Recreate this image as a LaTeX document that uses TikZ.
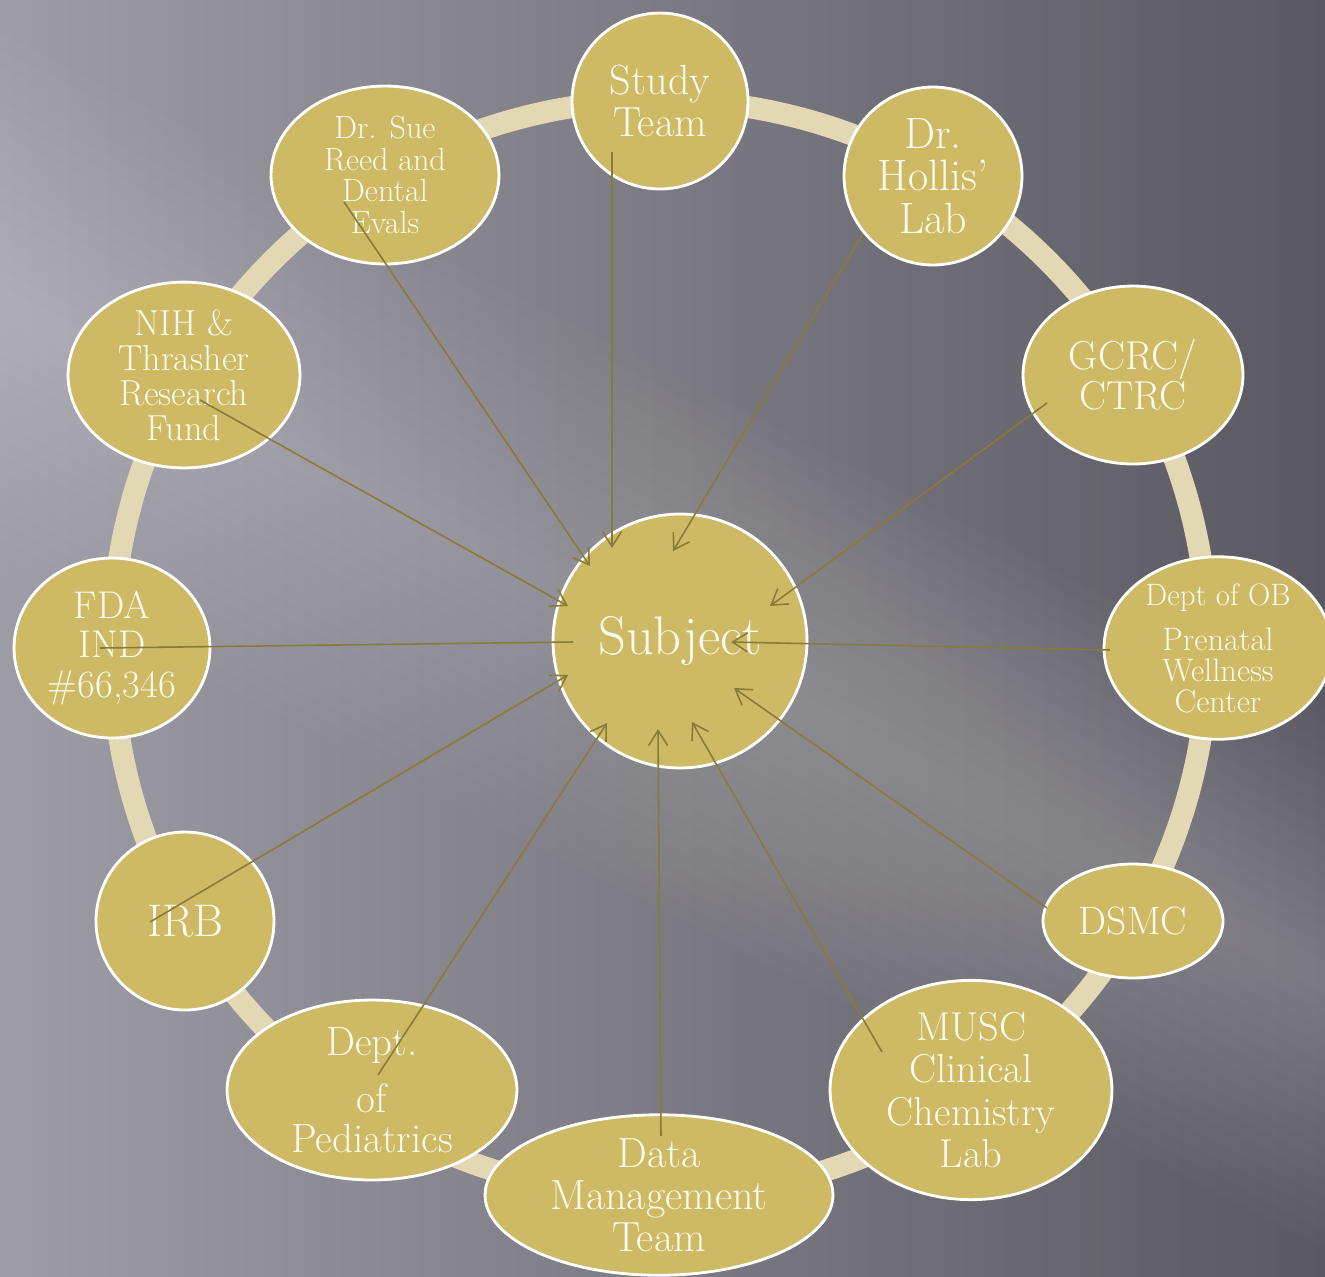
\documentclass[tikz,border=0pt]{standalone}
\usepackage{tikz}
\usetikzlibrary{shapes.geometric, arrows.meta}
\definecolor{bgdark}{RGB}{90,88,96}
\definecolor{bglight}{RGB}{158,156,164}
\definecolor{ringtan}{RGB}{226,216,180}
\definecolor{blobgold}{RGB}{206,186,100}
\definecolor{linkolive}{RGB}{138,122,58}
\definecolor{blobtext}{RGB}{252,250,238}
\newcommand{\txtsize}[2]{\fontsize{#1}{#2}\selectfont}

\begin{document}
\begin{tikzpicture}[x=0.02cm, y=-0.02cm,
  blob/.style={ellipse, fill=blobgold, draw=white, line width=1.6pt,
    text=blobtext, align=center, inner sep=0pt},
  link/.style={draw=linkolive, line width=0.9pt,
    -{Straight Barb[length=3mm, width=3.8mm]}}]

  % Background
  \useasboundingbox (0,0) rectangle (1325,1276);
  \shade[left color=bglight, right color=bgdark] (0,0) rectangle (1325,1276);
  \begin{scope}
    \clip (0,0) rectangle (1325,1276);
    \foreach \w in {15,30,...,240}
      \fill[white, opacity=0.016, rotate around={-27:(662,640)}]
        (-500,640-\w) rectangle (1900,640+\w);
  \end{scope}

  % Ring
  \draw[ringtan, line width=4.4mm] (660,648) circle[radius=548];

  % Nodes
  \node[blob, minimum width=50.8mm, minimum height=50.8mm, font=\txtsize{31}{32}] (subject) at (680,641) {Subject};
  \node[blob, minimum width=35.2mm, minimum height=35.2mm, font=\txtsize{24}{24}] (study) at (660,101) {Study\\Team};
  \node[blob, minimum width=35.6mm, minimum height=35.6mm, font=\txtsize{25}{24}] (hollis) at (933,176) {Dr.\\Hollis'\\Lab};
  \node[blob, minimum width=44mm, minimum height=35.6mm, font=\txtsize{23}{21.5}] (gcrc) at (1133,375) {GCRC/\\CTRC};
  \node[blob, minimum width=45.6mm, minimum height=35.2mm, font=\txtsize{18.5}{17.6}] (ob) at (1218,648) {{\txtsize{17.6}{17.6}Dept of OB}\\[8pt]Prenatal\\Wellness\\Center};
  \node[blob, minimum width=36mm, minimum height=22.8mm, font=\txtsize{22.5}{22}] (dsmc) at (1133,921) {DSMC};
  \node[blob, minimum width=56.4mm, minimum height=35.2mm, font=\txtsize{23}{24}] (musc) at (971,1090) {MUSC\\Clinical\\Chemistry\\Lab};
  \node[blob, minimum width=69.6mm, minimum height=31.6mm, font=\txtsize{24}{24}] (data) at (659,1195) {Data\\Management\\Team};
  \node[blob, minimum width=58mm, minimum height=36mm, font=\txtsize{23.3}{22.7}] (peds) at (372,1090) {Dept.\\[10pt]of\\Pediatrics};
  \node[blob, minimum width=35.6mm, minimum height=35.6mm, font=\txtsize{26}{26}] (irb) at (185,921) {IRB};
  \node[blob, minimum width=39.2mm, minimum height=36mm, font=\txtsize{22}{22.7}] (fda) at (112,648) {FDA\\IND\\\#66,346};
  \node[blob, minimum width=46.4mm, minimum height=36mm, font=\txtsize{20.6}{20}] (nih) at (184,375) {NIH \&\\Thrasher\\Research\\Fund};
  \node[blob, minimum width=45.6mm, minimum height=35.6mm, font=\txtsize{18.3}{18}] (sue) at (385,175) {Dr. Sue\\Reed and\\Dental\\Evals};

  % Link end points
  \coordinate (a-study) at (612,152);  \coordinate (b-study) at (612,548);
  \coordinate (a-hollis) at (862,235); \coordinate (b-hollis) at (673,551);
  \coordinate (a-gcrc) at (1047,403);  \coordinate (b-gcrc) at (770,606);
  \coordinate (a-ob) at (1110,650);    \coordinate (b-ob) at (731,642);
  \coordinate (a-dsmc) at (1047,908);  \coordinate (b-dsmc) at (734,688);
  \coordinate (a-musc) at (882,1052);  \coordinate (b-musc) at (692,722);
  \coordinate (a-data) at (661,1136);  \coordinate (b-data) at (658,729);
  \coordinate (a-peds) at (378,1075);  \coordinate (b-peds) at (607,723);
  \coordinate (a-irb) at (150,922);    \coordinate (b-irb) at (568,675);
  \coordinate (a-fda) at (100,648);    \coordinate (b-fda) at (573,642);
  \coordinate (a-nih) at (200,400);    \coordinate (b-nih) at (568,606);
  \coordinate (a-sue) at (344,202);    \coordinate (b-sue) at (590,566);

  % Links into the subject
  \foreach \n in {study,hollis,gcrc,ob,dsmc,musc,data,peds,irb,nih,sue}
    \draw[link] (a-\n) -- (b-\n);
  \draw[link, -] (a-fda) -- (b-fda);

\end{tikzpicture}
\end{document}
